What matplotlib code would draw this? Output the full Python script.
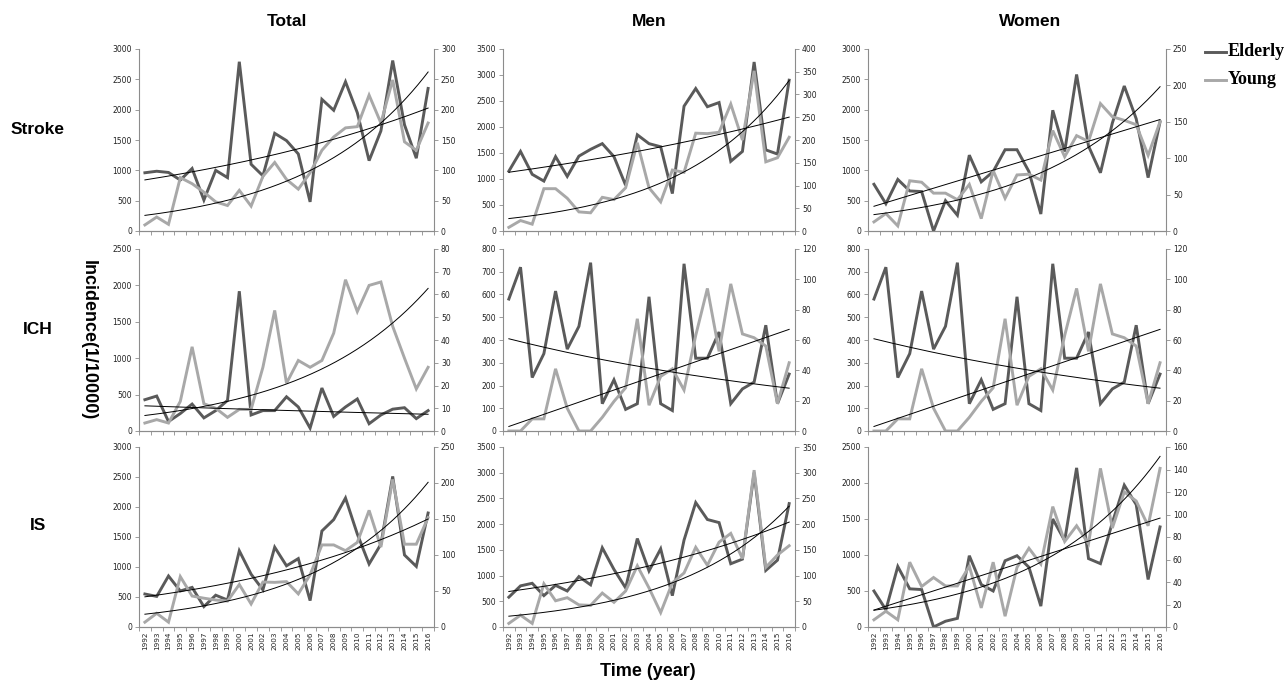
import numpy as np
import matplotlib
matplotlib.use("Agg")
import matplotlib.pyplot as plt

years = list(range(1992, 2017))
year_labels = [str(y) for y in years]
col_titles = ["Total", "Men", "Women"]
row_titles = ["Stroke", "ICH", "IS"]

# ---- Stroke ----
stroke_total_elderly = [960, 985, 965, 840, 1030, 510, 1000, 880, 2790, 1100, 910, 1610, 1490, 1270, 480,
                        2170, 1990, 2460, 1950, 1160, 1650, 2810, 1750, 1200, 2350]
stroke_total_young = [10, 23, 11, 88, 78, 64, 48, 42, 67, 41, 90, 113, 85, 69, 96,
                      133, 155, 170, 172, 224, 178, 249, 147, 133, 178]
stroke_men_elderly = [1150, 1530, 1090, 960, 1430, 1050, 1440, 1570, 1680, 1430, 880, 1850, 1680, 1620, 720,
                      2400, 2740, 2390, 2470, 1340, 1530, 3250, 1560, 1480, 2900]
stroke_men_young = [8, 23, 15, 93, 93, 72, 42, 40, 74, 69, 95, 194, 95, 64, 134,
                    129, 215, 214, 217, 279, 200, 352, 152, 161, 206]
stroke_women_elderly = [770, 450, 850, 660, 650, 0, 500, 260, 1250, 810, 980, 1340, 1340, 980, 280,
                        1990, 1310, 2580, 1400, 960, 1780, 2390, 1850, 880, 1800]
stroke_women_young = [12.5, 24, 7, 69, 67, 52, 52, 43, 64, 17, 83, 45, 77, 78, 70,
                      138, 102, 131, 123, 175, 157, 152, 146, 104, 150]

# ---- ICH ----
ich_total_elderly = [430, 480, 130, 240, 370, 180, 280, 420, 1920, 220, 280, 280, 470, 330, 40,
                     590, 200, 330, 440, 100, 220, 300, 320, 170, 280]
ich_total_young = [3.5, 5, 3.5, 13, 37, 12, 10, 6, 9.5, 9.5, 28, 53, 21, 31, 28,
                   31, 43, 66.5, 52.5, 64, 65.5, 46, 32, 18.5, 28]
ich_men_elderly = [580, 720, 235, 340, 615, 360, 460, 740, 120, 225, 95, 120, 590, 120, 90,
                   735, 320, 320, 435, 120, 185, 215, 465, 120, 250]
ich_men_young = [0, 0, 8, 8, 41, 15, 0, 0, 9, 19.5, 28.5, 74, 17, 36, 41,
                 27, 63, 94, 52.5, 97, 64, 61.5, 56, 18, 45]
ich_women_elderly = [580, 720, 235, 340, 615, 360, 460, 740, 120, 225, 95, 120, 590, 120, 90,
                     735, 320, 320, 435, 120, 185, 215, 465, 120, 250]
ich_women_young = [0, 0, 8, 8, 41, 15, 0, 0, 9, 19.5, 28.5, 74, 17, 36, 41,
                   27, 63, 94, 52.5, 97, 64, 61.5, 56, 18, 45]

# ---- IS ----
is_total_elderly = [550, 510, 850, 600, 660, 340, 530, 450, 1270, 880, 620, 1330, 1020, 1140, 440,
                    1600, 1790, 2150, 1550, 1050, 1380, 2510, 1200, 1010, 1900]
is_total_young = [6.7, 19, 6.7, 70, 43, 40, 37.5, 36, 59, 32, 62.5, 62, 63, 46, 72.5,
                  114, 114, 106, 117.5, 162, 111, 205, 115, 115, 152]
is_men_elderly = [580, 800, 850, 610, 810, 700, 980, 820, 1540, 1120, 760, 1720, 1090, 1520, 610,
                  1690, 2420, 2090, 2030, 1230, 1320, 3000, 1100, 1300, 2400]
is_men_young = [7, 23, 7, 84, 51, 57, 43, 42, 66, 48, 70, 119, 76, 28, 86,
                105, 155, 120, 165, 182, 133, 305, 116, 140, 158]
is_women_elderly = [500, 240, 840, 530, 520, 0, 80, 120, 990, 590, 500, 920, 990, 830, 290,
                    1500, 1200, 2210, 950, 880, 1450, 1970, 1700, 660, 1390]
is_women_young = [6.4, 14, 6.4, 57.6, 36, 44, 36.5, 36.5, 54, 17, 57.6, 9.6, 53, 70, 56,
                  107, 76, 90, 74, 141, 88, 120, 112, 90, 141]

elderly = [[stroke_total_elderly, stroke_men_elderly, stroke_women_elderly],
           [ich_total_elderly, ich_men_elderly, ich_women_elderly],
           [is_total_elderly, is_men_elderly, is_women_elderly]]
young = [[stroke_total_young, stroke_men_young, stroke_women_young],
         [ich_total_young, ich_men_young, ich_women_young],
         [is_total_young, is_men_young, is_women_young]]

# axis scales (left max, left step, right max, right step)
scales = [[(3000, 500, 300, 50), (3500, 500, 400, 50), (3000, 500, 250, 50)],
          [(2500, 500, 80, 10), (800, 100, 120, 20), (800, 100, 120, 20)],
          [(3000, 500, 250, 50), (3500, 500, 350, 50), (2500, 500, 160, 20)]]

C_OLD = "#5a5a5a"
C_YOUNG = "#a8a8a8"
SPINE = "#8c8c8c"
W, H = 1286, 681

col_x = [(139, 434), (503, 795), (868, 1166)]
row_y = [(49, 231), (249, 431), (447, 627)]
title_x = [287, 649, 1030]

fig = plt.figure(figsize=(W / 100, H / 100), dpi=100)
fig.patch.set_facecolor("white")


def trend(vals):
    v = np.asarray(vals, float)
    xi = np.arange(1, len(v) + 1)
    xx = np.linspace(1, len(v), 200)
    if np.all(v > 0):
        b, a = np.polyfit(xi, np.log(v), 1)
        return xx - 1, np.exp(a + b * xx)
    b, a = np.polyfit(xi, v, 1)
    return xx - 1, a + b * xx


x = np.arange(len(years))
for r in range(3):
    for c in range(3):
        x0, x1 = col_x[c]
        y0, y1 = row_y[r]
        ax = fig.add_axes([x0 / W, 1 - y1 / H, (x1 - x0) / W, (y1 - y0) / H])
        ax2 = ax.twinx()
        lmax, lstep, rmax, rstep = scales[r][c]
        ax.plot(x, elderly[r][c], color=C_OLD, lw=2.1, solid_joinstyle="miter")
        ax2.plot(x, young[r][c], color=C_YOUNG, lw=2.1, solid_joinstyle="miter")
        tx, ty = trend(elderly[r][c])
        ax2.plot(tx, ty, color="black", lw=0.7, transform=ax.transData)
        tx, ty = trend(young[r][c])
        ax2.plot(tx, ty, color="black", lw=0.7)
        for a, mx, st in ((ax, lmax, lstep), (ax2, rmax, rstep)):
            a.set_xlim(-0.5, len(years) - 0.5)
            a.set_ylim(0, mx)
            a.set_yticks(np.arange(0, mx + st / 2, st))
            a.tick_params(axis="y", labelsize=5.5, length=3, width=0.6, color=SPINE,
                          labelcolor="#222222", pad=2)
            a.set_facecolor("none")
            for s in a.spines.values():
                s.set_color(SPINE)
                s.set_linewidth(0.8)
            a.spines["top"].set_visible(False)
        ax.spines["right"].set_visible(False)
        ax2.spines["left"].set_visible(False)
        ax.set_xticks(np.arange(-0.5, len(years), 1.0))
        ax.set_xticklabels([])
        ax.tick_params(axis="x", which="major", length=3, width=0.6, color=SPINE)
        ax.set_xticks(x, minor=True)
        if r == 2:
            ax.set_xticklabels(year_labels, minor=True, rotation=90, fontsize=5.2, color="#222222")
        else:
            ax.set_xticklabels([], minor=True)
        ax.tick_params(axis="x", which="minor", length=0, pad=3)

for c, t in enumerate(col_titles):
    fig.text(title_x[c] / W, 1 - 22 / H, t, ha="center", va="center", fontsize=12.5,
             fontweight="bold", family="Liberation Sans")
for r, t in enumerate(row_titles):
    yc = [130, 330, 525][r]
    fig.text(38 / W, 1 - yc / H, t, ha="center", va="center", fontsize=12.5,
             fontweight="bold", family="Liberation Sans")
fig.text(88 / W, 1 - 340 / H, "Incidence(1/10000)", rotation=-90, ha="center", va="center",
         fontsize=13, fontweight="bold", family="Liberation Sans")
fig.text(648 / W, 1 - 671 / H, "Time (year)", ha="center", va="center", fontsize=13,
         fontweight="bold", family="Liberation Sans")

# legend
for i, (lab, col) in enumerate((("Elderly", C_OLD), ("Young", C_YOUNG))):
    yy = 1 - (52 + 28 * i) / H
    fig.add_artist(plt.Line2D([1205 / W, 1226 / W], [yy, yy], color=col, lw=2.1))
    fig.text(1228 / W, yy, lab, ha="left", va="center", fontsize=13, fontweight="bold",
             family="Liberation Serif")

fig.savefig("out.png", dpi=100)
